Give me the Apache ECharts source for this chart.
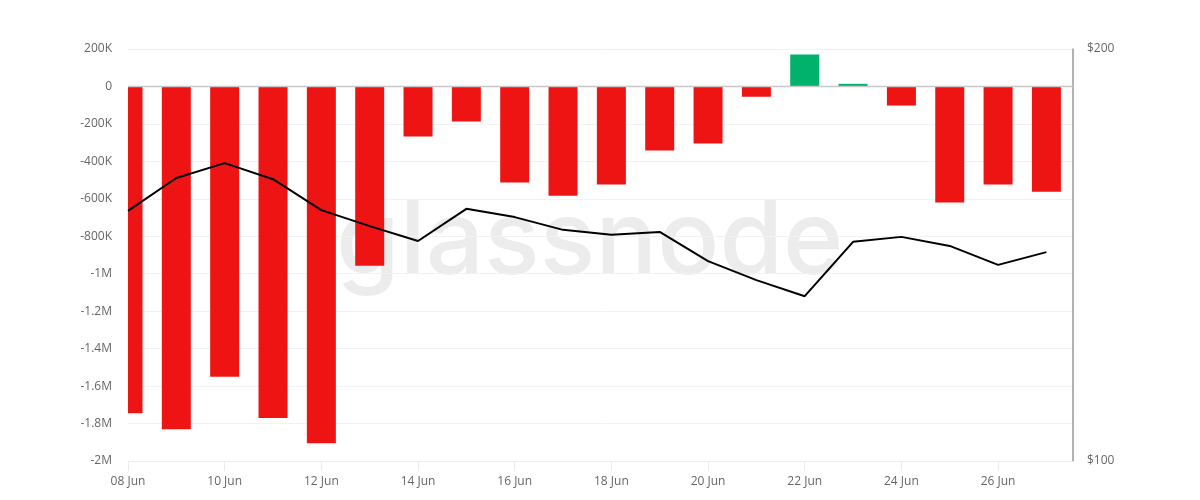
<!DOCTYPE html>
<html>
<head>
<meta charset="utf-8">
<script src="https://cdn.jsdelivr.net/npm/echarts@6/dist/echarts.min.js"></script>
<style>
html,body{margin:0;padding:0;background:#fff;}
#chart{width:1200px;height:500px;}
</style>
</head>
<body>
<div id="chart"></div>
<script>
const categories = ['08 Jun','09 Jun','10 Jun','11 Jun','12 Jun','13 Jun','14 Jun','15 Jun','16 Jun','17 Jun',
  '18 Jun','19 Jun','20 Jun','21 Jun','22 Jun','23 Jun','24 Jun','25 Jun','26 Jun','27 Jun'];
const netFlow = [-1745000,-1830000,-1550000,-1770000,-1905000,-957000,-267000,-187000,-513000,-583000,
  -524000,-342000,-305000,-55000,171000,14000,-102000,-620000,-524000,-562000];
const price = [160.7,168.7,172.3,168.4,160.9,157.0,153.4,161.2,159.2,156.1,
  154.9,155.6,148.5,143.9,140.0,153.2,154.4,152.2,147.6,150.7];
const leftTicks = {min:-2000000, max:200000, interval:200000};
const rightTicks = {min:100, max:200, interval:100};

const font = '"Open Sans", "Noto Sans", sans-serif';
function fmtLeft(v){
  if (v === 0) return '0';
  const a = Math.abs(v);
  let s;
  if (a >= 1000000) s = (a/1000000).toString() + 'M';
  else s = (a/1000).toString() + 'K';
  return (v < 0 ? '-' : '') + s;
}
const BAR_W = 29;
const chart = echarts.init(document.getElementById('chart'), null, {renderer:'canvas'});
chart.setOption({
  animation:false,
  backgroundColor:'#ffffff',
  textStyle:{fontFamily:font},
  grid:{left:128, right:127, top:49, bottom:39, containLabel:false},
  graphic:[{
    type:'text', left:336, top:192, z:-10, silent:true,
    style:{text:'glassnode', fontSize:103, fontFamily:'Inter, "Open Sans", sans-serif', fontWeight:500, fill:'#ececec'}
  }],
  xAxis:{
    type:'value', min:0, max:19.55, interval:2,
    axisLine:{show:true, onZero:false, lineStyle:{color:'#ececec'}},
    axisTick:{show:true, length:10, lineStyle:{color:'#ececec'}},
    splitLine:{show:false},
    axisLabel:{color:'#666', fontSize:12, fontFamily:font, margin:15, showMaxLabel:false,
      formatter:function(v){ return categories[Math.round(v)] || ''; }}
  },
  yAxis:[{
    type:'value', min:leftTicks.min, max:leftTicks.max, interval:leftTicks.interval,
    axisLine:{show:false}, axisTick:{show:false},
    splitLine:{lineStyle:{color:'#f2f2f2'}},
    axisLabel:{color:'#666', fontSize:12, fontFamily:font, margin:16, formatter:fmtLeft}
  },{
    type:'value', min:rightTicks.min, max:rightTicks.max, interval:rightTicks.interval,
    position:'right',
    axisLine:{show:true, lineStyle:{color:'#999', width:1.5}}, axisTick:{show:false},
    splitLine:{show:false},
    axisLabel:{color:'#666', fontSize:12, fontFamily:font, margin:14, formatter:function(v){return '$'+v;}}
  }],
  series:[{
    type:'custom', yAxisIndex:0, z:2,
    renderItem:function(params, api){
      const x = api.value(0), v = api.value(1);
      const p0 = api.coord([x, 0]);
      const p1 = api.coord([x, v]);
      const rect = echarts.graphic.clipRectByRect({
        x: p0[0] - BAR_W/2, y: Math.min(p0[1], p1[1]),
        width: BAR_W, height: Math.abs(p1[1] - p0[1])
      }, {x: params.coordSys.x, y: params.coordSys.y, width: params.coordSys.width, height: params.coordSys.height});
      if (!rect) return null;
      return {type:'rect', shape:rect, style:{fill: v >= 0 ? '#00b26b' : '#ef1414'}};
    },
    encode:{x:0, y:1},
    data: netFlow.map(function(v,i){ return [i, v]; })
  },{
    type:'line', yAxisIndex:0, z:2, symbol:'none', silent:true,
    lineStyle:{color:'#c8c8c8', width:1.5},
    data:[[0,0],[19.55,0]]
  },{
    type:'line', yAxisIndex:1, z:3, symbol:'none',
    lineStyle:{color:'#000', width:2},
    data: price.map(function(v,i){ return [i, v]; })
  }]
});
</script>
</body>
</html>
